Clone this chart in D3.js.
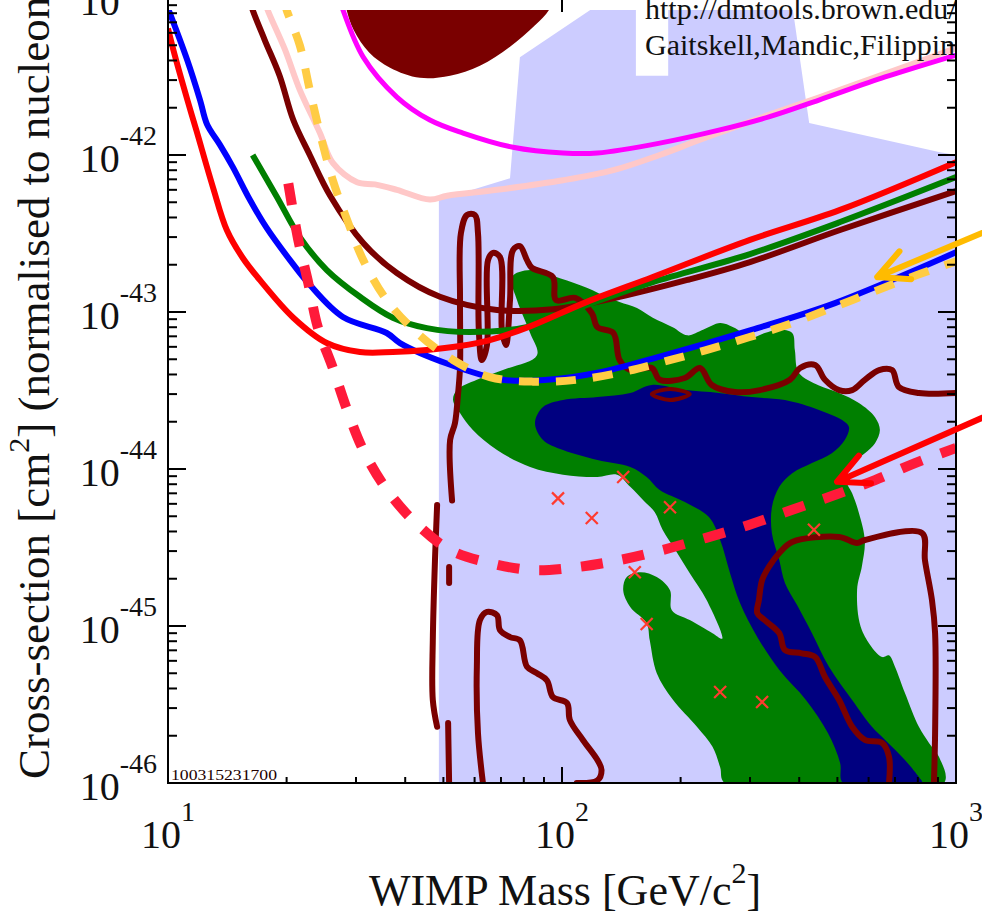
<!DOCTYPE html>
<html>
<head>
<meta charset="utf-8">
<script src="https://cdnjs.cloudflare.com/ajax/libs/d3/7.8.5/d3.min.js"></script>
<style>
body { margin: 0; background: #fff; }
svg { display: block; font-family: "Liberation Serif", "Times New Roman", serif; }
</style>
</head>
<body>
<script>
var width = 982;
var height = 914;

// axis ticks
var xMajor = [10, 100, 1000];
var xTickExp = ["1", "2", "3"];
var yMajor = [1e-46, 1e-45, 1e-44, 1e-43, 1e-42, 1e-41];
var yTickExp = ["-46", "-45", "-44", "-43", "-42", "-41"];

// all points are [WIMP mass GeV/c2, cross-section cm2]
// filled regions
var lavenderRegion = [[48.7,1e-46],[48.7,5.17e-43],[73.8,7.1e-43],[78.2,4.2e-42],[123,9e-42],[154,9e-42],[154,3.2e-42],
  [186,3.2e-42],[186,9e-42],[384,9e-42],[424,1.6e-42],[911,1.04e-42],[1000,1e-42],[1000,1e-46]];

var topBlob = [[28.0,1.05e-41],[28.4,8.4e-42],[29.6,6.25e-42],[32.4,4.5e-42],[36.6,3.6e-42],[43.6,3.1e-42],[52,3.2e-42],
  [61.9,3.7e-42],[73.8,4.9e-42],[85.4,6.7e-42],[92.7,8.4e-42],[96,1.05e-41]];

var greenRegion = [[74.6,1.67e-43],[83,1.85e-43],[98.8,1.64e-43],[116,1.42e-43],[130,1.24e-43],[140,1.16e-43],[155,1.06e-43],
  [170,9.2e-44],[191,8.0e-44],[208,7.1e-44],[228,7.7e-44],[252,8.5e-44],[272,8.0e-44],[303,6.9e-44],[327,7.35e-44],
  [356,7.7e-44],[384,7.35e-44],[390,5.7e-44],[399,4.1e-44],[449,3.4e-44],[505,3.05e-44],[567,2.63e-44],[623,2.14e-44],
  [641,1.77e-44],[623,1.46e-44],[587,1.26e-44],[545,1.09e-44],[522,8.9e-45],[545,7.0e-45],[567,5.25e-45],[587,3.5e-45],
  [577,2.4e-45],[561,1.7e-45],[577,9.4e-46],[649,6.35e-46],[676,6.5e-46],[700,5.5e-46],[742,3.74e-46],[805,2.28e-46],
  [854,1.8e-46],[905,1.47e-46],[932,1e-46],[259,1e-46],[252,1.26e-46],[241,1.7e-46],[220,2.28e-46],[191,3.4e-46],
  [174,5.0e-46],[167,8.1e-46],[164,1.04e-45],[149,1.32e-45],[143,1.69e-45],[146,2.05e-45],[158,2.2e-45],[174,2.05e-45],
  [188,1.69e-45],[190,1.26e-45],[211,1.09e-45],[241,9.0e-46],[255,8.3e-46],[233,1.46e-45],[211,2.17e-45],[194,3.05e-45],
  [180,4.1e-45],[172,5.3e-45],[161,6.3e-45],[149,7.7e-45],[138,9.2e-45],[123,8.9e-45],[100.6,9.2e-45],[83,1.03e-44],
  [68.4,1.32e-44],[59.4,1.77e-44],[55.1,2.27e-44],[52.9,2.75e-44],[54.1,3.18e-44],[60.8,3.7e-44],[70.8,4.27e-44],
  [86.4,5.3e-44],[83,7.35e-44],[76.9,1.19e-43]];

var navyRegion = [[100.6,2.75e-44],[123,2.87e-44],[149,3.05e-44],[169,3.43e-44],[205,3.18e-44],[250,3.05e-44],[303,2.87e-44],
  [368,2.75e-44],[449,2.38e-44],[514,2.05e-44],[535,1.85e-44],[522,1.53e-44],[484,1.26e-44],[431,1.09e-44],[384,9.4e-45],
  [356,7.7e-45],[341,5.7e-45],[341,3.9e-45],[356,2.63e-45],[368,1.88e-45],[395,1.36e-45],[431,9.0e-46],[476,5.5e-46],
  [545,3.38e-46],[612,2.28e-46],[661,1.88e-46],[742,1.4e-46],[805,1.09e-46],[820,1e-46],[517,1e-46],[508,1.34e-46],
  [473,2.08e-46],[416,3.38e-46],[357,5.2e-46],[314,8.4e-46],[283,1.4e-45],[267,2.17e-45],[252,3.53e-45],[236,4.94e-45],
  [205,6.16e-45],[177,7.35e-45],[164,8.9e-45],[149,1.03e-44],[123,1.14e-44],[100.6,1.32e-44],[89.5,1.53e-44],
  [85.4,1.96e-44],[89.5,2.48e-44]];

// dark red contours
var contourSpikes = [[52.6,6.3e-45],[52,1.53e-44],[53.5,1.96e-44],[54.5,3.05e-44],[55.1,4.46e-44],[55.1,1.19e-43],
  [55.4,3.18e-43],[57.4,4.15e-43],[60.1,4.15e-43],[61.2,3.18e-43],[61.5,7.67e-44],[62.6,4.94e-44],[64.5,6.16e-44],
  [64.9,2.14e-43],[66.8,2.38e-43],[69.6,2.24e-43],[70.4,7.67e-44],[72.1,6.16e-44],[73.8,1.19e-43],[75.1,2.48e-43],
  [78.2,2.63e-43],[81.5,2.14e-43],[83.9,1.91e-43],[94.8,1.67e-43],[96.6,1.19e-43],[108,1.23e-43],[119,9.85e-44],
  [123,8.0e-44],[135,7.35e-44],[140,4.94e-44],[149,4.27e-44],[169,4.4e-44],[177,3.7e-44],[205,3.8e-44],[224,4.4e-44],
  [240,3.43e-44],[275,3.09e-44],[318,3.18e-44],[379,3.7e-44],[402,4.4e-44],[439,4.6e-44],[465,3.7e-44],[505,3.18e-44],
  [545,3.18e-44],[587,3.7e-44],[638,4.27e-44],[688,4.27e-44],[716,3.33e-44],[805,3.05e-44],[1000,3.05e-44]];
var contourLeftA = [[48.2,5.9e-45],[47.6,2.63e-45],[47.0,8.1e-46],[47.0,3.38e-46],[48.2,2.28e-46]];
var contourLeftB = [[51.7,1e-46],[51.4,2.41e-46]];
var contourLeftC = [[51.7,2.38e-45],[51.7,1.88e-45]];
var contourLowerLeft = [[63,1e-46],[61.2,2.08e-46],[60.8,5.5e-46],[61.9,1.09e-45],[64.5,1.23e-45],[68.4,1.17e-45],
  [69.6,9.4e-46],[73.8,8.5e-46],[78.2,8.1e-46],[81.5,5.5e-46],[86.4,5.0e-46],[91.6,4.5e-46],[94.8,3.53e-46],
  [103,3.23e-46],[104.7,2.52e-46],[113,1.88e-46],[123,1.4e-46],[126,1.21e-46],[123,1.04e-46],[109,1e-46]];
var contourLowerRight = [[676,1e-46],[676,1.47e-46],[649,1.8e-46],[587,1.88e-46],[545,2.28e-46],[505,3.38e-46],
  [465,4.73e-46],[439,6.35e-46],[406,6.7e-46],[368,7.03e-46],[356,9.0e-46],[327,1.09e-45],[313,1.21e-45],[316,1.46e-45],
  [322,1.96e-45],[335,2.38e-45],[356,2.92e-45],[384,3.43e-45],[505,3.69e-45],[561,3.38e-45],[587,3.53e-45],
  [820,3.91e-45],[834,2.63e-45],[869,1.46e-45],[885,9.0e-46],[885,2.08e-46],[879,1e-46]];
var contourRing = [[169,3.0e-44],[188,3.23e-44],[211,3.0e-44],[188,2.75e-44]];

// limit curves
var pinkLimit = [[17.5,1e-41],[17.9,8.4e-42],[19.8,4.7e-42],[21.6,2.6e-42],[24.3,1.38e-42],[26.2,8.9e-43],[30.2,6.7e-43],
  [33.5,6.5e-43],[38.1,6.0e-43],[46.2,5.2e-43],[51.1,5.5e-43],[68.4,6.0e-43],[100.6,6.9e-43],[135,8.0e-43],[177,1.0e-42],
  [224,1.25e-42],[318,1.72e-42],[452,2.34e-42],[641,3.2e-42],[1000,4.8e-42]];
var magentaLimit = [[27.2,1e-41],[27.8,8.4e-42],[31.3,4.2e-42],[38.1,2.34e-42],[46.2,1.67e-42],[56.1,1.38e-42],
  [75.1,1.12e-42],[100.6,1.03e-42],[123,1.03e-42],[177,1.19e-42],[250,1.44e-42],[335,1.75e-42],[449,2.24e-42],
  [661,3.14e-42],[1000,4.33e-42]];
var brownLimit = [[16.05,1e-41],[16.4,8.4e-42],[17.6,5.4e-42],[19.2,3.2e-42],[20.8,1.67e-42],[22.9,1.0e-42],[25.8,5.5e-43],
  [31.3,2.75e-43],[38.1,1.77e-43],[49,1.25e-43],[68.4,1.03e-43],[94.8,1.04e-43],[140,1.25e-43],[208,1.6e-43],
  [300,2.08e-43],[508,3.33e-43],[1000,5.9e-43]];
var greenLimit = [[16.4,1.0e-42],[18.9,5.4e-43],[21.6,3.0e-43],[25.3,1.85e-43],[30.7,1.25e-43],[37.2,9.2e-44],[45.4,7.9e-44],
  [58.4,7.45e-44],[83,8.1e-44],[115.7,1.11e-43],[170,1.55e-43],[300,2.34e-43],[508,3.74e-43],[1000,7.23e-43]];
var blueLimit = [[10,8.6e-42],[11.2,4.0e-42],[12.06,2.24e-42],[12.56,1.57e-42],[13.55,1.16e-42],[14.6,8.4e-43],
  [16.15,5.17e-43],[17.8,3.43e-43],[20.4,2.14e-43],[22.9,1.49e-43],[27.8,9.3e-44],[35.9,7.35e-44],[38.8,6.34e-44],
  [51,4.7e-44],[70.8,3.7e-44],[91.6,3.7e-44],[123,4.1e-44],[177,5.2e-44],[303,7.7e-44],[493,1.14e-43],[1000,2.4e-43]];
var redLimit = [[10,6.4e-42],[10.4,4.33e-42],[11.2,2.24e-42],[11.8,1.44e-42],[13.0,6.25e-43],[14.1,3.33e-43],[15.5,2.2e-43],
  [17.1,1.6e-43],[20.8,9.2e-44],[25.3,6.35e-44],[30.7,5.56e-44],[37.2,5.56e-44],[45.4,5.73e-44],[55.1,6.07e-44],
  [65.6,6.63e-44],[83,8.1e-44],[115.7,1.16e-43],[170,1.67e-43],[300,2.88e-43],[508,4.47e-43],[1000,9.0e-43]];
var yellowProjection = [[19.6,1e-41],[20.0,8.4e-42],[21.6,5.0e-42],[22.9,2.6e-42],[24.3,1.38e-42],[26.2,6.9e-43],
  [28.5,3.85e-43],[31.3,2.14e-43],[35.9,1.19e-43],[42.9,7.35e-44],[52.9,4.95e-44],[65.6,3.85e-44],[84.4,3.6e-44],
  [109,3.7e-44],[143,4.15e-44],[180,4.8e-44],[231,5.7e-44],[298,6.9e-44],[384,8.5e-44],[493,1.08e-43],[615,1.34e-43],
  [796,1.72e-43],[1000,2.1e-43]];
var redProjection = [[20.2,6.6e-43],[21.4,2.9e-43],[22.7,1.53e-43],[24.0,8.0e-44],[26.2,4.4e-44],[28.5,2.37e-44],
  [31.3,1.32e-44],[35.5,7.7e-45],[41.9,4.7e-45],[52,3.05e-45],[65.6,2.52e-45],[84.4,2.27e-45],[109,2.37e-45],
  [140,2.63e-45],[180,3.05e-45],[231,3.63e-45],[298,4.4e-45],[384,5.5e-45],[490,6.8e-45],[623,8.5e-45],
  [787,1.09e-44],[1000,1.36e-44]];

// model points (x marks)
var benchmarkPoints = [[97.7,6.5e-45],[119,4.87e-45],[143,8.9e-45],[188,5.7e-45],[436,4.1e-45],[153,2.2e-45],
  [164,1.03e-45],[252,3.8e-46],[322,3.28e-46]];

// annotation arrows: [tail, tip]
var yellowArrow = [[1294,3.56e-43],[631,1.67e-43]];
var redArrow = [[1294,2.38e-44],[499,8.3e-45]];

var creditLines = ["http://dmtools.brown.edu/", "Gaitskell,Mandic,Filippini"];
var plotStamp = "100315231700";

var x = d3.scaleLog().domain([10, 1000]).range([168, 956]);
var y = d3.scaleLog().domain([1e-46, 1e-41]).range([783, -2]);

var svg = d3.select("body").append("svg").attr("width", width).attr("height", height);
var defs = svg.append("defs");
defs.append("clipPath").attr("id", "plotclip").append("rect")
  .attr("x", 168).attr("y", 10).attr("width", 788).attr("height", 773);
defs.append("clipPath").attr("id", "textclip").append("rect")
  .attr("x", 168).attr("y", 0).attr("width", 788).attr("height", 783);

var smooth = d3.line().x(function(d){ return x(d[0]); }).y(function(d){ return y(d[1]); })
  .curve(d3.curveCatmullRom.alpha(0.5));
var smoothClosed = d3.line().x(function(d){ return x(d[0]); }).y(function(d){ return y(d[1]); })
  .curve(d3.curveCatmullRomClosed.alpha(0.5));
var straightClosed = d3.line().x(function(d){ return x(d[0]); }).y(function(d){ return y(d[1]); })
  .curve(d3.curveLinearClosed);

var plot = svg.append("g").attr("clip-path", "url(#plotclip)");

plot.append("path").attr("d", straightClosed(lavenderRegion)).attr("fill", "#ccccff");
plot.append("path").attr("d", smooth(topBlob)).attr("fill", "#7a0000");
plot.append("path").attr("d", smoothClosed(greenRegion)).attr("fill", "#007f00");
plot.append("path").attr("d", smoothClosed(navyRegion)).attr("fill", "#000080");

// contours
[contourSpikes, contourLeftA, contourLeftB, contourLeftC, contourLowerLeft, contourLowerRight].forEach(function(c){
  plot.append("path").attr("d", smooth(c))
    .attr("fill", "none").attr("stroke", "#7a0000").attr("stroke-width", 6)
    .attr("stroke-linejoin", "round").attr("stroke-linecap", "round");
});
plot.append("path").attr("d", smoothClosed(contourRing))
  .attr("fill", "none").attr("stroke", "#7a0000").attr("stroke-width", 4);

// limit curves, bottom to top
var curves = [
  {data: pinkLimit, color: "#ffc8c8", w: 6},
  {data: magentaLimit, color: "#ff00ff", w: 5},
  {data: brownLimit, color: "#7a0000", w: 6},
  {data: greenLimit, color: "#007f00", w: 6},
  {data: blueLimit, color: "#0000ff", w: 6},
  {data: redLimit, color: "#ff0000", w: 6},
  {data: yellowProjection, color: "#ffcc44", w: 8, dash: "20,17"},
  {data: redProjection, color: "#ff1a3a", w: 10, dash: "22,20"}
];
curves.forEach(function(c){
  plot.append("path").attr("d", smooth(c.data))
    .attr("fill", "none").attr("stroke", c.color).attr("stroke-width", c.w)
    .attr("stroke-dasharray", c.dash || null);
});

// x marks
plot.selectAll(".mark").data(benchmarkPoints).enter().append("path")
  .attr("class", "mark")
  .attr("d", function(d){
    var cx = x(d[0]), cy = y(d[1]), s = 6;
    return "M" + (cx - s) + "," + (cy - s) + "L" + (cx + s) + "," + (cy + s) +
      "M" + (cx - s) + "," + (cy + s) + "L" + (cx + s) + "," + (cy - s);
  })
  .attr("stroke", "#ff3b2f").attr("stroke-width", 2.2).attr("fill", "none");

// credits (cropped at the frame, as in the source figure)
var credits = svg.append("g").attr("clip-path", "url(#textclip)");
credits.selectAll("text").data(creditLines).enter().append("text")
  .attr("x", 645).attr("y", function(d, i){ return 19 + i * 36; })
  .attr("font-size", 30).attr("fill", "#111").text(function(d){ return d; });

// axes frame
var axis = svg.append("g").attr("stroke", "#000").attr("stroke-width", 2);
axis.append("line").attr("x1", 168).attr("y1", 0).attr("x2", 168).attr("y2", 784);
axis.append("line").attr("x1", 956).attr("y1", 0).attr("x2", 956).attr("y2", 784);
axis.append("line").attr("x1", 167).attr("y1", 783).attr("x2", 957).attr("y2", 783);

function isMajor(v){ return Math.abs(Math.log10(v) - Math.round(Math.log10(v))) < 1e-6; }

y.ticks().forEach(function(v){
  var py = y(v);
  if (py < 0) return;
  var len = isMajor(v) ? 18 : 9;
  axis.append("line").attr("x1", 168).attr("x2", 168 + len).attr("y1", py).attr("y2", py);
  axis.append("line").attr("x1", 956).attr("x2", 956 - len).attr("y1", py).attr("y2", py);
});
x.ticks().forEach(function(v){
  var px = x(v);
  var len = isMajor(v) ? 16 : 6;
  axis.append("line").attr("x1", px).attr("x2", px).attr("y1", 783).attr("y2", 783 - len);
});
axis.append("line").attr("x1", x(100)).attr("x2", x(100)).attr("y1", -4).attr("y2", 12);

// tick labels
function powerLabel(px, py, exp, anchor){
  var t = svg.append("text").attr("x", px).attr("y", py).attr("text-anchor", anchor)
    .attr("font-size", 40).attr("fill", "#111");
  t.append("tspan").text("10");
  t.append("tspan").attr("dy", -27).attr("font-size", 28).text(exp);
}
yMajor.forEach(function(v, i){ powerLabel(157, y(v) + 17, yTickExp[i], "end"); });
xMajor.forEach(function(v, i){ powerLabel(x(v), 848, xTickExp[i], "middle"); });

// axis titles
var xt = svg.append("text").attr("x", 565).attr("y", 905).attr("text-anchor", "middle")
  .attr("font-size", 44).attr("fill", "#111");
xt.append("tspan").text("WIMP Mass [GeV/c");
xt.append("tspan").attr("dy", -22).attr("font-size", 30).text("2");
xt.append("tspan").attr("dy", 22).text("]");

var yt = svg.append("text").attr("transform", "translate(49,779) rotate(-90)")
  .attr("font-size", 45).attr("fill", "#111");
yt.append("tspan").text("Cross-section [cm");
yt.append("tspan").attr("dy", -20).attr("font-size", 30).text("2");
yt.append("tspan").attr("dy", 20).text("] (normalised to nucleon)");

svg.append("text").attr("x", 171).attr("y", 780).attr("font-size", 15)
  .attr("textLength", 106).attr("lengthAdjust", "spacingAndGlyphs")
  .attr("fill", "#220000").text(plotStamp);

// arrows
function drawArrow(a, color){
  var x1 = x(a[0][0]), y1 = y(a[0][1]), x2 = x(a[1][0]), y2 = y(a[1][1]);
  var ang = Math.atan2(y1 - y2, x1 - x2);
  var head = 34, spread = 0.46;
  var d = "M" + x1 + "," + y1 + "L" + x2 + "," + y2 +
    "M" + (x2 + head * Math.cos(ang - spread)) + "," + (y2 + head * Math.sin(ang - spread)) +
    "L" + x2 + "," + y2 +
    "L" + (x2 + head * Math.cos(ang + spread)) + "," + (y2 + head * Math.sin(ang + spread));
  svg.append("path").attr("d", d).attr("fill", "none").attr("stroke", color)
    .attr("stroke-width", 6).attr("stroke-linecap", "round").attr("stroke-linejoin", "round");
}
drawArrow(yellowArrow, "#ffbb00");
drawArrow(redArrow, "#ff0000");
</script>
</body>
</html>
